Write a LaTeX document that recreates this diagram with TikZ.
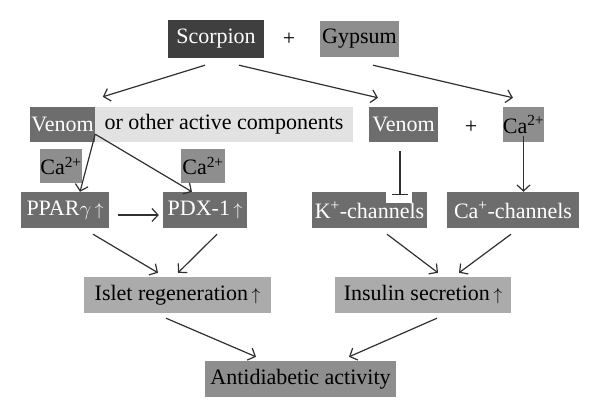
\documentclass[tikz,border=0pt]{standalone}
\usepackage{fontspec}
\setmainfont{Liberation Serif}
\usepackage{xcolor}
\usetikzlibrary{calc,arrows.meta}
\definecolor{boxdark}{HTML}{3F3F3F}
\definecolor{boxmid}{HTML}{6D6D6D}
\definecolor{boxgray}{HTML}{8E8E8E}
\definecolor{boxlight}{HTML}{ABABAB}
\definecolor{boxpale}{HTML}{E2E2E2}
\definecolor{linecol}{HTML}{303030}
\tikzset{
    box/.style={inner sep=0pt, minimum height=36pt, anchor=center},
    darkbox/.style={box, fill=boxdark, text=white},
    midbox/.style={box, fill=boxmid, text=white},
    graybox/.style={box, fill=boxgray, text=black},
    lightbox/.style={box, fill=boxlight, text=black},
    palebox/.style={box, fill=boxpale, text=black},
    link/.style={draw=linecol, line width=1.2pt, -{Straight Barb[length=6pt,width=13pt]}}
}
\newcommand{\up}{\,{\fontsize{19}{22}\selectfont$\uparrow$}}

\begin{document}
\begin{tikzpicture}[x=1pt,y=-1pt,font=\fontsize{22}{26}\selectfont]
    \useasboundingbox (0,0) rectangle (600,417);
    % top row
    \node[darkbox,minimum width=96pt,minimum height=38pt] (scor) at (216,39) {Scorpion};
    \node (plusA) at (289,39) {+};
    \node[graybox,minimum width=79pt] (gyp) at (359.5,39) {Gypsum};
    % second row
    \node[midbox,minimum width=65pt,minimum height=35pt] (venL) at (62.5,124.5) {Venom};
    \node[palebox,minimum width=258pt,minimum height=35pt] (other) at (224,124.5) {or other active components};
    \node[midbox,minimum width=69pt,minimum height=35pt] (venR) at (403.5,124.5) {Venom};
    \node (plusB) at (471,127) {+};
    \node[graybox,minimum width=41pt,minimum height=35pt] (caR) at (523.5,124.5) {Ca\textsuperscript{2+}};
    % calcium inputs
    \node[graybox,minimum width=42pt,minimum height=34pt] (caL) at (61,166) {Ca\textsuperscript{2+}};
    \node[graybox,minimum width=44pt,minimum height=34pt] (caM) at (203,166) {Ca\textsuperscript{2+}};
    % third row
    \node[midbox,minimum width=88pt] (ppar) at (65,210) {PPAR$\gamma$\up};
    \node[midbox,minimum width=84pt] (pdx) at (205,210) {PDX-1\up};
    \node[midbox,minimum width=115pt] (kch) at (369.5,210) {K\textsuperscript{+}-channels};
    \node[box,fill=white,minimum width=26pt,minimum height=11pt] (notch) at (399,197.5) {};
    \node[midbox,minimum width=132pt] (cach) at (513,210) {Ca\textsuperscript{+}-channels};
    % fourth row
    \node[lightbox,minimum width=187pt] (islet) at (177.5,295) {Islet regeneration\up};
    \node[lightbox,minimum width=176pt] (insul) at (423,295) {Insulin secretion\up};
    % result
    \node[graybox,minimum width=191pt] (anti) at (300.5,379) {Antidiabetic activity};

    \coordinate (apex) at ([yshift=8pt]venL.south east);

    \draw[link] ([shift={(-11,7)}]scor.south) -- ([shift={(8,-10)}]other.north west);
    \draw[link] ([shift={(23,7)}]scor.south) -- ([shift={(-25.5,-9)}]venR.north);
    \draw[link] ([shift={(13.5,8)}]gyp.south) -- ([shift={(-10.5,-9)}]caR.north);
    \draw[link] (apex) -- ([xshift=15pt]ppar.north);
    \draw[link] (apex) -- ([xshift=-13pt]pdx.north);
    \draw[link] ([shift={(9,5)}]ppar.east) -- ([shift={(-4,5)}]pdx.west);
    \draw[draw=linecol,line width=1.2pt,-{Bar[width=16pt,line width=1.2pt]}] ([shift={(-3.5,9)}]venR.south) -- ([shift={(1,3)}]notch.north);
    \draw[link] ([yshift=6pt]caR.south) -- ([xshift=10.5pt]cach.north);
    \draw[link] ([shift={(28,6)}]ppar.south) -- ([shift={(-19.5,-4)}]islet.north);
    \draw[link] ([shift={(12,6)}]pdx.south) -- ([shift={(0.5,-4)}]islet.north);
    \draw[link] ([shift={(17.5,6)}]kch.south) -- ([shift={(15,-4)}]insul.north);
    \draw[link] ([shift={(-2,6)}]cach.south) -- ([shift={(36,-4)}]insul.north);
    \draw[link] ([shift={(-11.5,5)}]islet.south) -- ([shift={(-44.5,-4)}]anti.north);
    \draw[link] ([shift={(14,5)}]insul.south) -- ([shift={(48.5,-4)}]anti.north);
\end{tikzpicture}
\end{document}
